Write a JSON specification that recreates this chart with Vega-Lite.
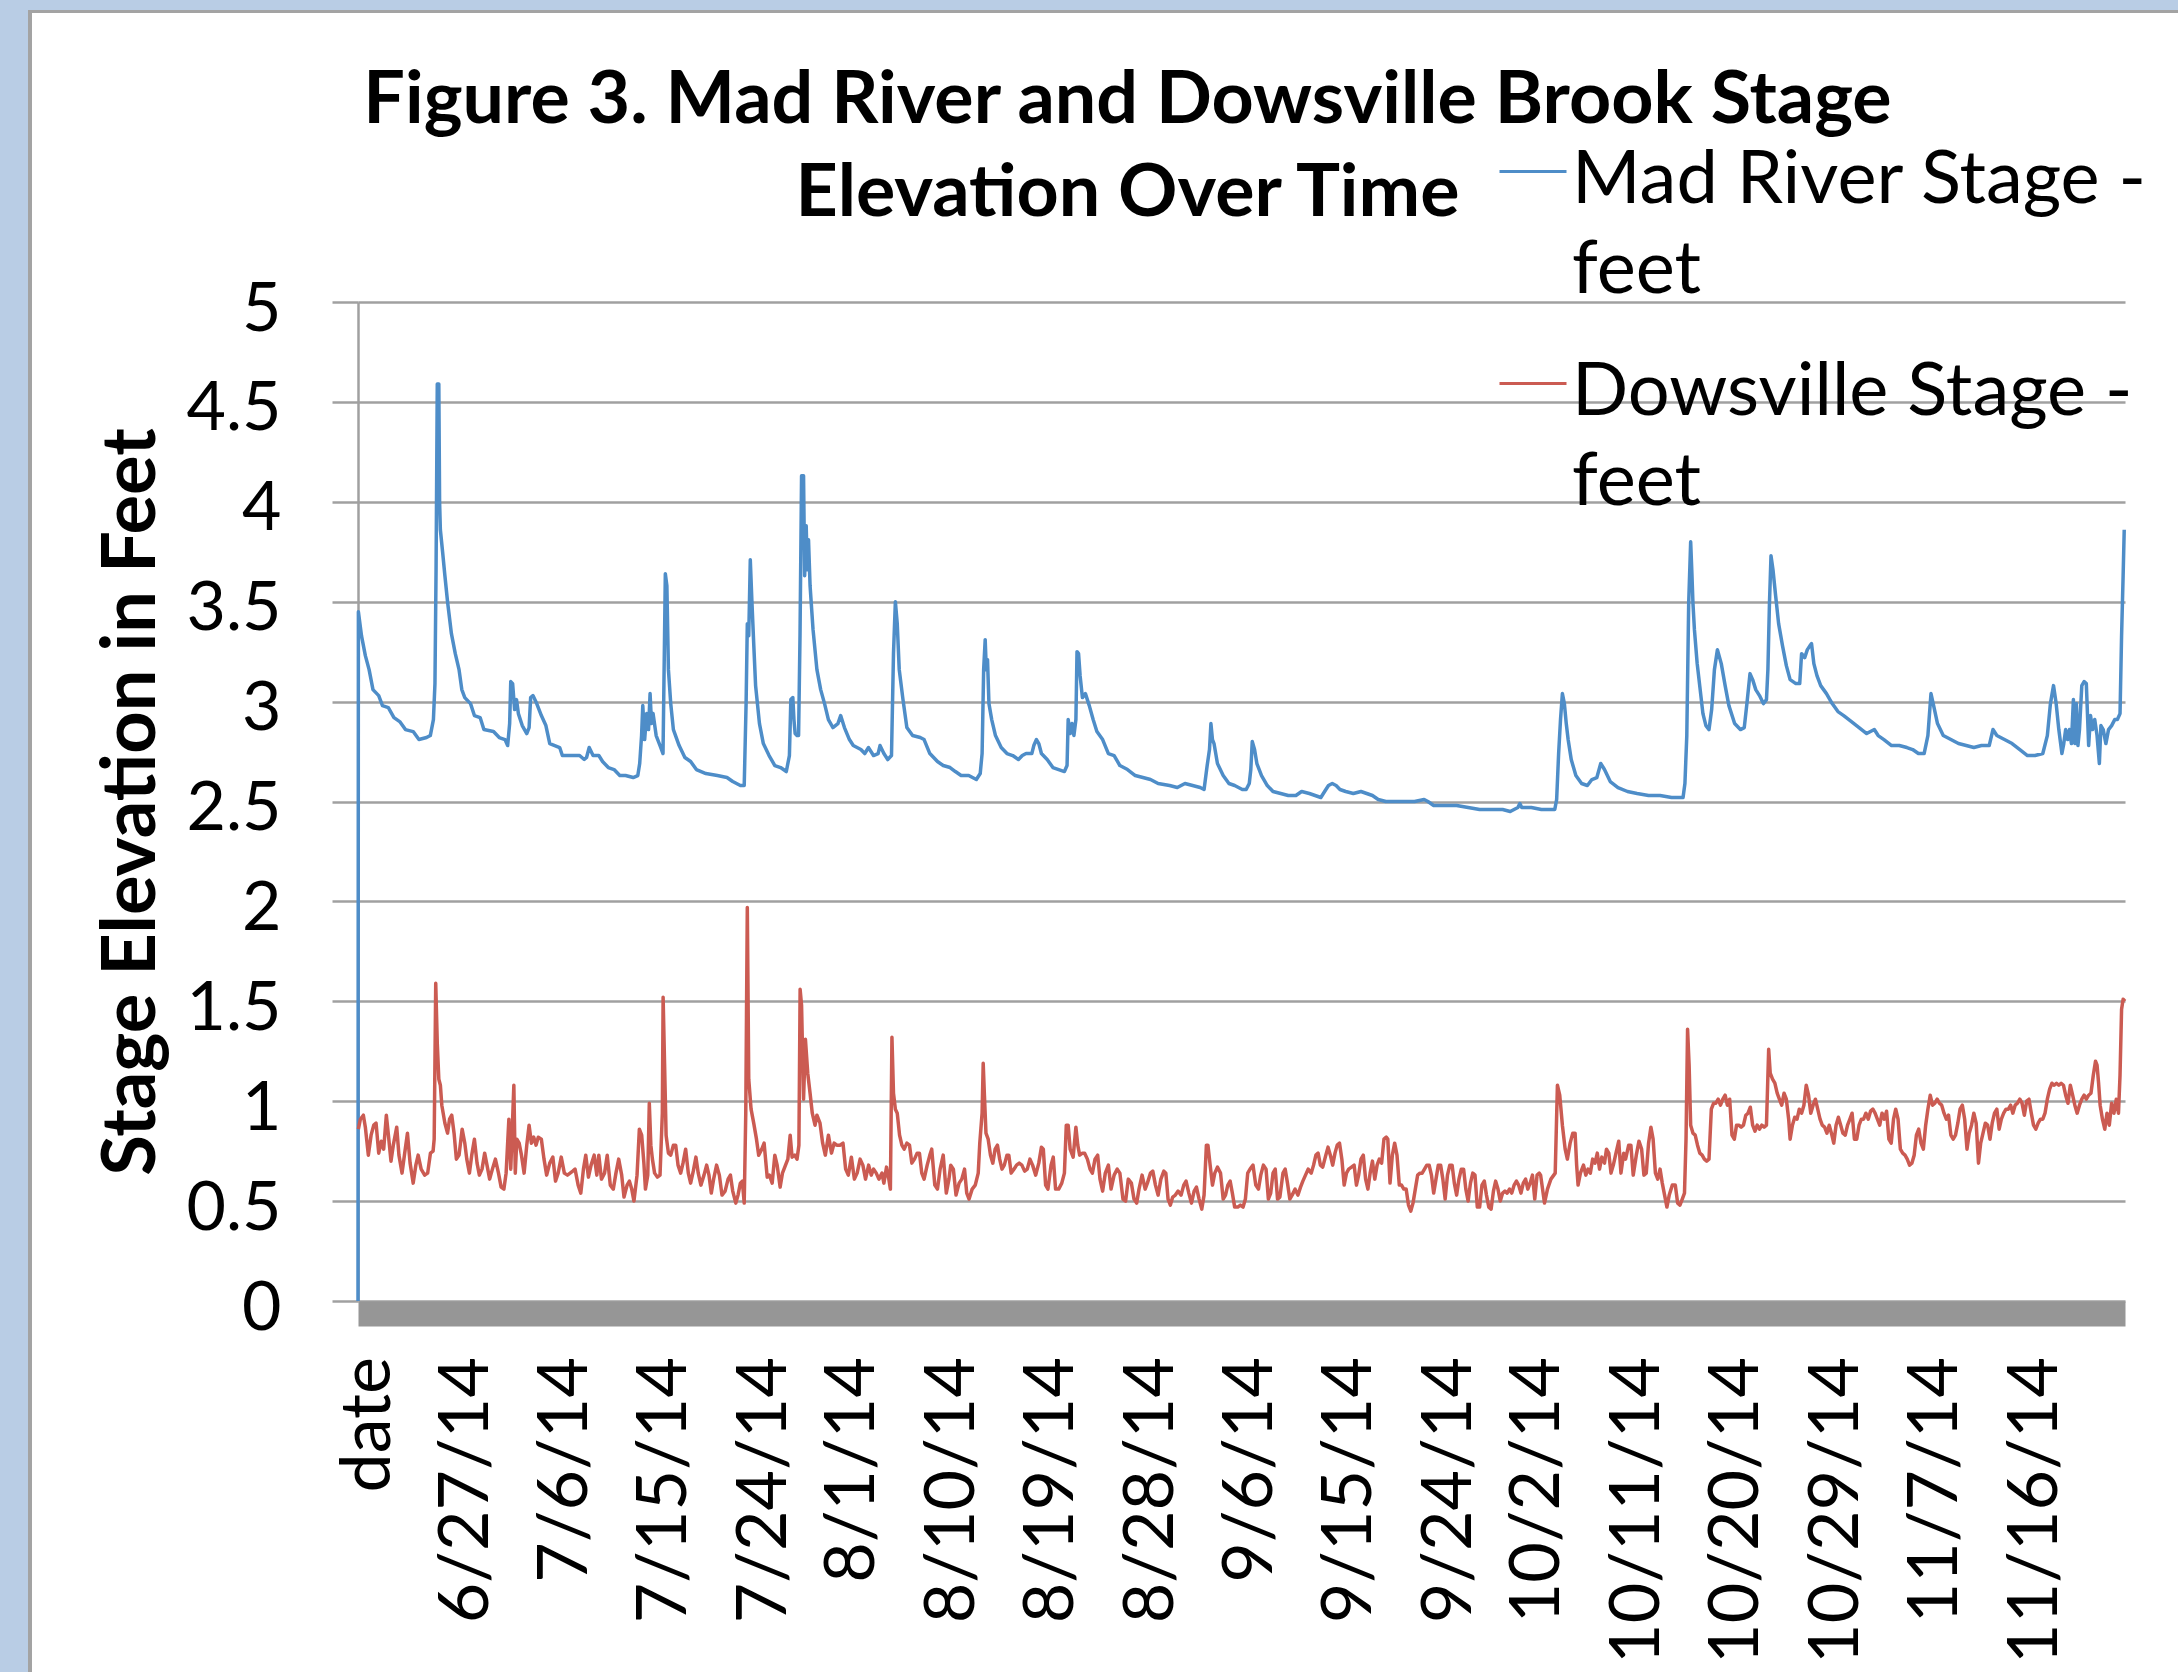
{
"$schema": "https://vega.github.io/schema/vega-lite/v6.json",
"padding": 0,
"background": "white",
"config": {"view": {"stroke": null}, "font": "Lato", "style": {"guide-label": {"lineHeight": 90}}},
"datasets": {
"mad": [
{"day":0.125,"v":0},{"day":0.16,"v":3.45},{"day":0.44,"v":3.33},{"day":0.79,"v":3.23},{"day":1.13,"v":3.16},{"day":1.48,"v":3.06},{"day":2.00,"v":3.03},{"day":2.34,"v":2.98},{"day":2.87,"v":2.97},{"day":3.38,"v":2.92},{"day":3.90,"v":2.90},{"day":4.42,"v":2.86},{"day":5.12,"v":2.85},{"day":5.64,"v":2.81},{"day":6.33,"v":2.82},{"day":6.67,"v":2.83},{"day":6.95,"v":2.91},{"day":7.09,"v":3.09},{"day":7.19,"v":3.66},{"day":7.30,"v":4.59},{"day":7.44,"v":4.59},{"day":7.51,"v":4.00},{"day":7.58,"v":3.86},{"day":7.78,"v":3.75},{"day":7.99,"v":3.63},{"day":8.23,"v":3.50},{"day":8.58,"v":3.34},{"day":8.93,"v":3.24},{"day":9.27,"v":3.16},{"day":9.52,"v":3.06},{"day":9.79,"v":3.02},{"day":10.31,"v":2.99},{"day":10.66,"v":2.93},{"day":11.18,"v":2.92},{"day":11.52,"v":2.86},{"day":12.39,"v":2.85},{"day":12.91,"v":2.82},{"day":13.43,"v":2.81},{"day":13.67,"v":2.78},{"day":13.85,"v":2.89},{"day":13.95,"v":3.10},{"day":14.12,"v":3.09},{"day":14.30,"v":2.96},{"day":14.47,"v":3.01},{"day":14.64,"v":2.94},{"day":14.99,"v":2.88},{"day":15.40,"v":2.84},{"day":15.61,"v":2.87},{"day":15.75,"v":3.02},{"day":15.96,"v":3.03},{"day":16.30,"v":2.99},{"day":16.72,"v":2.93},{"day":17.13,"v":2.88},{"day":17.48,"v":2.79},{"day":17.93,"v":2.78},{"day":18.38,"v":2.77},{"day":18.62,"v":2.73},{"day":19.32,"v":2.73},{"day":20.18,"v":2.73},{"day":20.60,"v":2.71},{"day":20.81,"v":2.72},{"day":21.05,"v":2.77},{"day":21.40,"v":2.73},{"day":21.92,"v":2.73},{"day":22.26,"v":2.70},{"day":22.78,"v":2.67},{"day":23.30,"v":2.66},{"day":23.82,"v":2.63},{"day":24.34,"v":2.63},{"day":25.03,"v":2.62},{"day":25.45,"v":2.63},{"day":25.62,"v":2.69},{"day":25.79,"v":2.83},{"day":25.90,"v":2.98},{"day":26.07,"v":2.81},{"day":26.25,"v":2.94},{"day":26.42,"v":2.86},{"day":26.56,"v":3.04},{"day":26.69,"v":2.89},{"day":26.83,"v":2.94},{"day":27.11,"v":2.83},{"day":27.46,"v":2.78},{"day":27.73,"v":2.74},{"day":27.87,"v":3.33},{"day":27.94,"v":3.64},{"day":28.08,"v":3.58},{"day":28.22,"v":3.16},{"day":28.43,"v":2.99},{"day":28.67,"v":2.86},{"day":29.19,"v":2.78},{"day":29.71,"v":2.72},{"day":30.23,"v":2.70},{"day":30.75,"v":2.66},{"day":31.61,"v":2.64},{"day":32.65,"v":2.63},{"day":33.52,"v":2.62},{"day":34.04,"v":2.60},{"day":34.73,"v":2.58},{"day":35.08,"v":2.58},{"day":35.25,"v":2.99},{"day":35.36,"v":3.39},{"day":35.49,"v":3.33},{"day":35.63,"v":3.71},{"day":35.77,"v":3.51},{"day":35.94,"v":3.29},{"day":36.11,"v":3.08},{"day":36.46,"v":2.89},{"day":36.81,"v":2.79},{"day":37.33,"v":2.73},{"day":37.85,"v":2.68},{"day":38.37,"v":2.67},{"day":38.89,"v":2.65},{"day":39.17,"v":2.73},{"day":39.30,"v":3.01},{"day":39.48,"v":3.02},{"day":39.58,"v":2.91},{"day":39.69,"v":2.84},{"day":39.86,"v":2.83},{"day":40.00,"v":2.83},{"day":40.13,"v":3.33},{"day":40.27,"v":4.13},{"day":40.45,"v":4.13},{"day":40.55,"v":3.63},{"day":40.69,"v":3.88},{"day":40.79,"v":3.66},{"day":40.90,"v":3.81},{"day":41.04,"v":3.58},{"day":41.31,"v":3.36},{"day":41.66,"v":3.16},{"day":42.00,"v":3.06},{"day":42.35,"v":2.99},{"day":42.70,"v":2.91},{"day":43.11,"v":2.87},{"day":43.56,"v":2.89},{"day":43.81,"v":2.93},{"day":44.15,"v":2.87},{"day":44.60,"v":2.81},{"day":44.95,"v":2.78},{"day":45.64,"v":2.76},{"day":45.99,"v":2.74},{"day":46.33,"v":2.77},{"day":46.78,"v":2.73},{"day":47.20,"v":2.74},{"day":47.37,"v":2.78},{"day":47.72,"v":2.74},{"day":48.07,"v":2.71},{"day":48.41,"v":2.73},{"day":48.59,"v":3.24},{"day":48.76,"v":3.50},{"day":48.93,"v":3.39},{"day":49.11,"v":3.16},{"day":49.45,"v":3.01},{"day":49.80,"v":2.87},{"day":50.32,"v":2.83},{"day":51.01,"v":2.82},{"day":51.36,"v":2.81},{"day":51.88,"v":2.74},{"day":52.57,"v":2.70},{"day":53.09,"v":2.68},{"day":53.71,"v":2.67},{"day":54.19,"v":2.65},{"day":54.71,"v":2.63},{"day":55.40,"v":2.63},{"day":56.09,"v":2.61},{"day":56.44,"v":2.64},{"day":56.61,"v":2.74},{"day":56.75,"v":3.16},{"day":56.89,"v":3.31},{"day":56.99,"v":3.16},{"day":57.10,"v":3.21},{"day":57.23,"v":2.99},{"day":57.48,"v":2.91},{"day":57.82,"v":2.83},{"day":58.34,"v":2.77},{"day":58.86,"v":2.74},{"day":59.38,"v":2.73},{"day":59.90,"v":2.71},{"day":60.25,"v":2.73},{"day":60.59,"v":2.74},{"day":61.11,"v":2.74},{"day":61.29,"v":2.78},{"day":61.53,"v":2.81},{"day":61.74,"v":2.79},{"day":61.98,"v":2.74},{"day":62.50,"v":2.71},{"day":63.02,"v":2.67},{"day":63.54,"v":2.66},{"day":64.06,"v":2.65},{"day":64.30,"v":2.68},{"day":64.40,"v":2.91},{"day":64.58,"v":2.84},{"day":64.75,"v":2.89},{"day":64.92,"v":2.83},{"day":65.10,"v":2.91},{"day":65.20,"v":3.25},{"day":65.34,"v":3.24},{"day":65.48,"v":3.13},{"day":65.69,"v":3.02},{"day":65.96,"v":3.04},{"day":66.31,"v":2.98},{"day":66.66,"v":2.91},{"day":67.00,"v":2.85},{"day":67.52,"v":2.81},{"day":68.04,"v":2.74},{"day":68.56,"v":2.73},{"day":69.08,"v":2.68},{"day":69.77,"v":2.66},{"day":70.47,"v":2.63},{"day":71.16,"v":2.62},{"day":71.85,"v":2.61},{"day":72.54,"v":2.59},{"day":73.58,"v":2.58},{"day":74.28,"v":2.57},{"day":74.97,"v":2.59},{"day":75.66,"v":2.58},{"day":76.35,"v":2.57},{"day":76.70,"v":2.56},{"day":76.98,"v":2.68},{"day":77.19,"v":2.76},{"day":77.32,"v":2.89},{"day":77.46,"v":2.81},{"day":77.60,"v":2.79},{"day":77.91,"v":2.69},{"day":78.43,"v":2.63},{"day":78.95,"v":2.59},{"day":79.47,"v":2.58},{"day":80.16,"v":2.56},{"day":80.51,"v":2.56},{"day":80.79,"v":2.59},{"day":80.93,"v":2.66},{"day":81.06,"v":2.80},{"day":81.27,"v":2.76},{"day":81.48,"v":2.69},{"day":81.90,"v":2.63},{"day":82.42,"v":2.58},{"day":82.94,"v":2.55},{"day":83.63,"v":2.54},{"day":84.32,"v":2.53},{"day":85.01,"v":2.53},{"day":85.53,"v":2.55},{"day":86.23,"v":2.54},{"day":86.75,"v":2.53},{"day":87.27,"v":2.52},{"day":87.61,"v":2.55},{"day":87.96,"v":2.58},{"day":88.30,"v":2.59},{"day":88.65,"v":2.58},{"day":89.00,"v":2.56},{"day":89.52,"v":2.55},{"day":90.21,"v":2.54},{"day":90.90,"v":2.55},{"day":91.42,"v":2.54},{"day":91.94,"v":2.53},{"day":92.46,"v":2.51},{"day":93.15,"v":2.50},{"day":94.02,"v":2.50},{"day":94.88,"v":2.50},{"day":95.75,"v":2.50},{"day":96.62,"v":2.51},{"day":96.96,"v":2.50},{"day":97.48,"v":2.48},{"day":98.52,"v":2.48},{"day":99.56,"v":2.48},{"day":100.60,"v":2.47},{"day":101.64,"v":2.46},{"day":102.68,"v":2.46},{"day":103.72,"v":2.46},{"day":104.41,"v":2.45},{"day":105.10,"v":2.47},{"day":105.28,"v":2.49},{"day":105.45,"v":2.47},{"day":106.32,"v":2.47},{"day":107.23,"v":2.46},{"day":107.92,"v":2.46},{"day":108.44,"v":2.46},{"day":108.61,"v":2.51},{"day":108.79,"v":2.74},{"day":108.96,"v":2.91},{"day":109.13,"v":3.04},{"day":109.31,"v":2.99},{"day":109.48,"v":2.89},{"day":109.65,"v":2.81},{"day":109.93,"v":2.71},{"day":110.35,"v":2.63},{"day":110.87,"v":2.59},{"day":111.39,"v":2.58},{"day":111.80,"v":2.61},{"day":112.25,"v":2.62},{"day":112.60,"v":2.69},{"day":112.94,"v":2.66},{"day":113.46,"v":2.60},{"day":114.16,"v":2.57},{"day":115.02,"v":2.55},{"day":115.89,"v":2.54},{"day":116.93,"v":2.53},{"day":117.97,"v":2.53},{"day":119.01,"v":2.52},{"day":120.05,"v":2.52},{"day":120.22,"v":2.59},{"day":120.39,"v":2.83},{"day":120.56,"v":3.49},{"day":120.74,"v":3.80},{"day":120.84,"v":3.66},{"day":120.95,"v":3.49},{"day":121.08,"v":3.36},{"day":121.33,"v":3.19},{"day":121.60,"v":3.06},{"day":121.85,"v":2.94},{"day":122.12,"v":2.88},{"day":122.40,"v":2.86},{"day":122.64,"v":2.96},{"day":122.89,"v":3.16},{"day":123.16,"v":3.26},{"day":123.51,"v":3.19},{"day":123.86,"v":3.08},{"day":124.20,"v":2.98},{"day":124.72,"v":2.89},{"day":125.24,"v":2.86},{"day":125.59,"v":2.87},{"day":125.83,"v":2.99},{"day":126.11,"v":3.14},{"day":126.35,"v":3.11},{"day":126.63,"v":3.06},{"day":126.97,"v":3.03},{"day":127.32,"v":2.99},{"day":127.60,"v":3.01},{"day":127.73,"v":3.16},{"day":127.87,"v":3.49},{"day":128.01,"v":3.73},{"day":128.19,"v":3.66},{"day":128.43,"v":3.53},{"day":128.70,"v":3.39},{"day":129.05,"v":3.28},{"day":129.40,"v":3.18},{"day":129.74,"v":3.11},{"day":130.26,"v":3.09},{"day":130.61,"v":3.09},{"day":130.78,"v":3.24},{"day":131.06,"v":3.22},{"day":131.30,"v":3.26},{"day":131.54,"v":3.28},{"day":131.68,"v":3.29},{"day":131.89,"v":3.19},{"day":132.17,"v":3.13},{"day":132.51,"v":3.08},{"day":133.03,"v":3.04},{"day":133.55,"v":2.99},{"day":134.07,"v":2.95},{"day":134.59,"v":2.93},{"day":135.29,"v":2.90},{"day":135.98,"v":2.87},{"day":136.67,"v":2.84},{"day":137.36,"v":2.86},{"day":137.71,"v":2.83},{"day":138.23,"v":2.81},{"day":138.92,"v":2.78},{"day":139.62,"v":2.78},{"day":140.31,"v":2.77},{"day":140.83,"v":2.76},{"day":141.35,"v":2.74},{"day":141.87,"v":2.74},{"day":142.21,"v":2.83},{"day":142.49,"v":3.04},{"day":142.73,"v":2.98},{"day":143.08,"v":2.89},{"day":143.60,"v":2.83},{"day":144.29,"v":2.81},{"day":144.98,"v":2.79},{"day":145.68,"v":2.78},{"day":146.37,"v":2.77},{"day":147.06,"v":2.78},{"day":147.76,"v":2.78},{"day":148.10,"v":2.86},{"day":148.45,"v":2.83},{"day":149.14,"v":2.81},{"day":149.83,"v":2.79},{"day":150.53,"v":2.76},{"day":151.22,"v":2.73},{"day":151.91,"v":2.73},{"day":152.61,"v":2.74},{"day":153.02,"v":2.83},{"day":153.30,"v":2.99},{"day":153.58,"v":3.08},{"day":153.82,"v":2.99},{"day":154.06,"v":2.86},{"day":154.34,"v":2.74},{"day":154.51,"v":2.79},{"day":154.68,"v":2.86},{"day":154.86,"v":2.81},{"day":155.03,"v":2.86},{"day":155.20,"v":2.79},{"day":155.38,"v":3.01},{"day":155.51,"v":2.79},{"day":155.65,"v":2.99},{"day":155.79,"v":2.78},{"day":155.93,"v":2.86},{"day":156.14,"v":3.08},{"day":156.35,"v":3.10},{"day":156.55,"v":3.09},{"day":156.76,"v":2.78},{"day":156.93,"v":2.93},{"day":157.11,"v":2.86},{"day":157.31,"v":2.91},{"day":157.52,"v":2.83},{"day":157.73,"v":2.69},{"day":157.87,"v":2.88},{"day":158.08,"v":2.86},{"day":158.32,"v":2.79},{"day":158.56,"v":2.86},{"day":158.84,"v":2.88},{"day":159.12,"v":2.91},{"day":159.36,"v":2.91},{"day":159.60,"v":2.94},{"day":159.74,"v":3.33},{"day":159.88,"v":3.63},{"day":159.98,"v":3.86}
],
"dow": [
{"day":0.16,"v":0.86},{"day":0.34,"v":0.91},{"day":0.61,"v":0.93},{"day":0.79,"v":0.87},{"day":1.06,"v":0.73},{"day":1.31,"v":0.83},{"day":1.55,"v":0.88},{"day":1.76,"v":0.89},{"day":2.00,"v":0.74},{"day":2.24,"v":0.80},{"day":2.45,"v":0.76},{"day":2.69,"v":0.93},{"day":2.86,"v":0.84},{"day":3.11,"v":0.70},{"day":3.32,"v":0.78},{"day":3.63,"v":0.87},{"day":3.83,"v":0.73},{"day":4.11,"v":0.64},{"day":4.35,"v":0.74},{"day":4.60,"v":0.84},{"day":4.84,"v":0.69},{"day":5.12,"v":0.59},{"day":5.36,"v":0.68},{"day":5.57,"v":0.73},{"day":5.84,"v":0.66},{"day":6.16,"v":0.63},{"day":6.43,"v":0.64},{"day":6.68,"v":0.74},{"day":6.92,"v":0.75},{"day":7.02,"v":0.81},{"day":7.16,"v":1.59},{"day":7.30,"v":1.29},{"day":7.44,"v":1.11},{"day":7.58,"v":1.08},{"day":7.71,"v":0.98},{"day":7.99,"v":0.89},{"day":8.23,"v":0.84},{"day":8.41,"v":0.91},{"day":8.61,"v":0.93},{"day":8.82,"v":0.84},{"day":9.03,"v":0.71},{"day":9.27,"v":0.73},{"day":9.55,"v":0.86},{"day":9.79,"v":0.79},{"day":9.97,"v":0.71},{"day":10.21,"v":0.64},{"day":10.42,"v":0.73},{"day":10.66,"v":0.81},{"day":10.90,"v":0.69},{"day":11.11,"v":0.63},{"day":11.35,"v":0.66},{"day":11.59,"v":0.74},{"day":11.80,"v":0.68},{"day":12.04,"v":0.61},{"day":12.29,"v":0.66},{"day":12.56,"v":0.71},{"day":12.84,"v":0.64},{"day":13.08,"v":0.57},{"day":13.33,"v":0.56},{"day":13.53,"v":0.64},{"day":13.78,"v":0.91},{"day":13.95,"v":0.66},{"day":14.12,"v":0.91},{"day":14.23,"v":1.08},{"day":14.36,"v":0.64},{"day":14.50,"v":0.81},{"day":14.71,"v":0.79},{"day":14.92,"v":0.73},{"day":15.16,"v":0.64},{"day":15.40,"v":0.78},{"day":15.61,"v":0.88},{"day":15.82,"v":0.79},{"day":16.03,"v":0.82},{"day":16.24,"v":0.78},{"day":16.44,"v":0.82},{"day":16.72,"v":0.81},{"day":16.96,"v":0.71},{"day":17.20,"v":0.63},{"day":17.48,"v":0.69},{"day":17.76,"v":0.72},{"day":18.00,"v":0.60},{"day":18.24,"v":0.64},{"day":18.52,"v":0.72},{"day":18.80,"v":0.64},{"day":19.08,"v":0.63},{"day":19.32,"v":0.64},{"day":19.56,"v":0.65},{"day":19.77,"v":0.66},{"day":20.05,"v":0.58},{"day":20.29,"v":0.54},{"day":20.53,"v":0.66},{"day":20.74,"v":0.73},{"day":20.98,"v":0.62},{"day":21.22,"v":0.68},{"day":21.50,"v":0.73},{"day":21.74,"v":0.63},{"day":21.92,"v":0.73},{"day":22.16,"v":0.61},{"day":22.44,"v":0.64},{"day":22.68,"v":0.73},{"day":22.96,"v":0.58},{"day":23.23,"v":0.56},{"day":23.47,"v":0.64},{"day":23.72,"v":0.71},{"day":23.99,"v":0.63},{"day":24.20,"v":0.52},{"day":24.48,"v":0.58},{"day":24.69,"v":0.60},{"day":24.90,"v":0.56},{"day":25.10,"v":0.50},{"day":25.38,"v":0.63},{"day":25.59,"v":0.86},{"day":25.80,"v":0.83},{"day":26.00,"v":0.69},{"day":26.14,"v":0.56},{"day":26.35,"v":0.63},{"day":26.49,"v":0.99},{"day":26.63,"v":0.78},{"day":26.77,"v":0.71},{"day":26.97,"v":0.64},{"day":27.22,"v":0.62},{"day":27.46,"v":0.63},{"day":27.67,"v":0.94},{"day":27.74,"v":1.52},{"day":27.87,"v":1.19},{"day":28.01,"v":0.83},{"day":28.22,"v":0.74},{"day":28.43,"v":0.73},{"day":28.67,"v":0.78},{"day":28.88,"v":0.78},{"day":29.09,"v":0.68},{"day":29.33,"v":0.64},{"day":29.54,"v":0.69},{"day":29.78,"v":0.76},{"day":30.02,"v":0.64},{"day":30.23,"v":0.59},{"day":30.47,"v":0.65},{"day":30.71,"v":0.72},{"day":30.92,"v":0.64},{"day":31.16,"v":0.58},{"day":31.44,"v":0.63},{"day":31.68,"v":0.68},{"day":31.89,"v":0.63},{"day":32.10,"v":0.54},{"day":32.31,"v":0.61},{"day":32.58,"v":0.68},{"day":32.83,"v":0.63},{"day":33.07,"v":0.53},{"day":33.35,"v":0.55},{"day":33.62,"v":0.61},{"day":33.83,"v":0.63},{"day":34.04,"v":0.55},{"day":34.32,"v":0.49},{"day":34.52,"v":0.53},{"day":34.73,"v":0.59},{"day":34.91,"v":0.60},{"day":35.08,"v":0.49},{"day":35.22,"v":0.94},{"day":35.36,"v":1.97},{"day":35.49,"v":1.11},{"day":35.70,"v":0.96},{"day":35.94,"v":0.89},{"day":36.19,"v":0.81},{"day":36.39,"v":0.73},{"day":36.67,"v":0.76},{"day":36.88,"v":0.79},{"day":37.16,"v":0.62},{"day":37.36,"v":0.63},{"day":37.61,"v":0.59},{"day":37.85,"v":0.73},{"day":38.06,"v":0.68},{"day":38.33,"v":0.57},{"day":38.54,"v":0.64},{"day":38.82,"v":0.68},{"day":39.03,"v":0.71},{"day":39.24,"v":0.83},{"day":39.41,"v":0.72},{"day":39.65,"v":0.73},{"day":39.86,"v":0.71},{"day":40.03,"v":0.78},{"day":40.14,"v":1.56},{"day":40.27,"v":1.48},{"day":40.45,"v":1.01},{"day":40.62,"v":1.31},{"day":40.83,"v":1.14},{"day":41.04,"v":1.04},{"day":41.24,"v":0.94},{"day":41.49,"v":0.88},{"day":41.66,"v":0.93},{"day":41.94,"v":0.89},{"day":42.18,"v":0.79},{"day":42.42,"v":0.73},{"day":42.70,"v":0.83},{"day":42.98,"v":0.74},{"day":43.22,"v":0.79},{"day":43.46,"v":0.78},{"day":43.74,"v":0.78},{"day":44.02,"v":0.79},{"day":44.26,"v":0.66},{"day":44.50,"v":0.63},{"day":44.78,"v":0.72},{"day":45.05,"v":0.61},{"day":45.30,"v":0.64},{"day":45.57,"v":0.71},{"day":45.82,"v":0.68},{"day":46.06,"v":0.61},{"day":46.34,"v":0.68},{"day":46.58,"v":0.63},{"day":46.79,"v":0.66},{"day":47.03,"v":0.64},{"day":47.27,"v":0.61},{"day":47.55,"v":0.64},{"day":47.72,"v":0.59},{"day":47.96,"v":0.67},{"day":48.17,"v":0.61},{"day":48.31,"v":0.56},{"day":48.45,"v":1.32},{"day":48.59,"v":1.04},{"day":48.76,"v":0.96},{"day":48.93,"v":0.94},{"day":49.14,"v":0.83},{"day":49.35,"v":0.78},{"day":49.56,"v":0.76},{"day":49.80,"v":0.79},{"day":50.04,"v":0.78},{"day":50.25,"v":0.69},{"day":50.49,"v":0.71},{"day":50.73,"v":0.74},{"day":50.94,"v":0.74},{"day":51.15,"v":0.64},{"day":51.36,"v":0.61},{"day":51.64,"v":0.68},{"day":51.88,"v":0.73},{"day":52.05,"v":0.76},{"day":52.33,"v":0.58},{"day":52.57,"v":0.56},{"day":52.81,"v":0.66},{"day":53.09,"v":0.73},{"day":53.37,"v":0.54},{"day":53.61,"v":0.61},{"day":53.77,"v":0.68},{"day":54.01,"v":0.66},{"day":54.25,"v":0.53},{"day":54.53,"v":0.59},{"day":54.77,"v":0.61},{"day":55.02,"v":0.66},{"day":55.22,"v":0.54},{"day":55.43,"v":0.51},{"day":55.71,"v":0.56},{"day":55.99,"v":0.58},{"day":56.26,"v":0.64},{"day":56.40,"v":0.79},{"day":56.61,"v":0.94},{"day":56.71,"v":1.19},{"day":56.82,"v":1.03},{"day":56.96,"v":0.84},{"day":57.16,"v":0.81},{"day":57.37,"v":0.73},{"day":57.58,"v":0.69},{"day":57.79,"v":0.76},{"day":58.00,"v":0.78},{"day":58.20,"v":0.71},{"day":58.41,"v":0.66},{"day":58.62,"v":0.68},{"day":58.86,"v":0.73},{"day":59.03,"v":0.73},{"day":59.24,"v":0.64},{"day":59.49,"v":0.66},{"day":59.73,"v":0.68},{"day":59.97,"v":0.69},{"day":60.21,"v":0.68},{"day":60.46,"v":0.65},{"day":60.70,"v":0.66},{"day":60.94,"v":0.71},{"day":61.18,"v":0.68},{"day":61.46,"v":0.63},{"day":61.74,"v":0.69},{"day":61.98,"v":0.77},{"day":62.15,"v":0.76},{"day":62.36,"v":0.58},{"day":62.57,"v":0.56},{"day":62.85,"v":0.68},{"day":63.05,"v":0.72},{"day":63.26,"v":0.56},{"day":63.54,"v":0.56},{"day":63.82,"v":0.59},{"day":64.06,"v":0.64},{"day":64.23,"v":0.88},{"day":64.40,"v":0.88},{"day":64.58,"v":0.76},{"day":64.85,"v":0.72},{"day":65.10,"v":0.87},{"day":65.27,"v":0.78},{"day":65.44,"v":0.73},{"day":65.69,"v":0.74},{"day":65.89,"v":0.74},{"day":66.14,"v":0.71},{"day":66.38,"v":0.66},{"day":66.59,"v":0.64},{"day":66.83,"v":0.71},{"day":67.07,"v":0.73},{"day":67.28,"v":0.61},{"day":67.52,"v":0.55},{"day":67.76,"v":0.64},{"day":68.04,"v":0.68},{"day":68.28,"v":0.56},{"day":68.56,"v":0.63},{"day":68.84,"v":0.66},{"day":69.08,"v":0.64},{"day":69.36,"v":0.51},{"day":69.60,"v":0.50},{"day":69.84,"v":0.61},{"day":70.12,"v":0.59},{"day":70.36,"v":0.51},{"day":70.60,"v":0.49},{"day":70.81,"v":0.56},{"day":71.09,"v":0.63},{"day":71.37,"v":0.56},{"day":71.57,"v":0.59},{"day":71.85,"v":0.64},{"day":72.06,"v":0.65},{"day":72.30,"v":0.58},{"day":72.54,"v":0.53},{"day":72.79,"v":0.61},{"day":73.06,"v":0.65},{"day":73.24,"v":0.64},{"day":73.44,"v":0.51},{"day":73.65,"v":0.48},{"day":73.86,"v":0.52},{"day":74.10,"v":0.53},{"day":74.35,"v":0.55},{"day":74.62,"v":0.53},{"day":74.86,"v":0.58},{"day":75.07,"v":0.60},{"day":75.32,"v":0.54},{"day":75.56,"v":0.49},{"day":75.80,"v":0.55},{"day":76.01,"v":0.57},{"day":76.25,"v":0.51},{"day":76.49,"v":0.46},{"day":76.70,"v":0.53},{"day":76.91,"v":0.78},{"day":77.05,"v":0.78},{"day":77.25,"v":0.68},{"day":77.46,"v":0.58},{"day":77.67,"v":0.64},{"day":77.91,"v":0.67},{"day":78.19,"v":0.64},{"day":78.43,"v":0.51},{"day":78.64,"v":0.53},{"day":78.85,"v":0.58},{"day":79.06,"v":0.60},{"day":79.26,"v":0.54},{"day":79.47,"v":0.47},{"day":79.75,"v":0.47},{"day":79.99,"v":0.48},{"day":80.23,"v":0.47},{"day":80.44,"v":0.51},{"day":80.65,"v":0.64},{"day":80.86,"v":0.66},{"day":81.13,"v":0.68},{"day":81.38,"v":0.58},{"day":81.62,"v":0.56},{"day":81.83,"v":0.63},{"day":82.07,"v":0.68},{"day":82.31,"v":0.66},{"day":82.52,"v":0.51},{"day":82.73,"v":0.54},{"day":82.94,"v":0.64},{"day":83.14,"v":0.66},{"day":83.35,"v":0.51},{"day":83.56,"v":0.52},{"day":83.84,"v":0.64},{"day":84.04,"v":0.66},{"day":84.25,"v":0.59},{"day":84.46,"v":0.51},{"day":84.67,"v":0.53},{"day":84.94,"v":0.56},{"day":85.19,"v":0.53},{"day":85.43,"v":0.57},{"day":85.64,"v":0.60},{"day":85.88,"v":0.63},{"day":86.12,"v":0.66},{"day":86.40,"v":0.64},{"day":86.61,"v":0.68},{"day":86.82,"v":0.73},{"day":87.02,"v":0.74},{"day":87.23,"v":0.68},{"day":87.44,"v":0.67},{"day":87.72,"v":0.73},{"day":87.92,"v":0.77},{"day":88.13,"v":0.73},{"day":88.34,"v":0.68},{"day":88.55,"v":0.74},{"day":88.75,"v":0.78},{"day":88.96,"v":0.79},{"day":89.17,"v":0.71},{"day":89.38,"v":0.58},{"day":89.59,"v":0.64},{"day":89.79,"v":0.66},{"day":90.04,"v":0.67},{"day":90.28,"v":0.68},{"day":90.49,"v":0.58},{"day":90.69,"v":0.63},{"day":90.90,"v":0.71},{"day":91.11,"v":0.73},{"day":91.32,"v":0.61},{"day":91.53,"v":0.56},{"day":91.73,"v":0.64},{"day":91.94,"v":0.70},{"day":92.15,"v":0.61},{"day":92.36,"v":0.68},{"day":92.56,"v":0.71},{"day":92.77,"v":0.69},{"day":92.98,"v":0.81},{"day":93.19,"v":0.82},{"day":93.33,"v":0.81},{"day":93.53,"v":0.59},{"day":93.74,"v":0.73},{"day":93.95,"v":0.79},{"day":94.16,"v":0.73},{"day":94.37,"v":0.58},{"day":94.57,"v":0.58},{"day":94.78,"v":0.56},{"day":94.99,"v":0.56},{"day":95.20,"v":0.48},{"day":95.41,"v":0.45},{"day":95.61,"v":0.49},{"day":95.82,"v":0.56},{"day":96.03,"v":0.63},{"day":96.24,"v":0.64},{"day":96.44,"v":0.64},{"day":96.65,"v":0.66},{"day":96.86,"v":0.68},{"day":97.07,"v":0.68},{"day":97.28,"v":0.63},{"day":97.48,"v":0.54},{"day":97.69,"v":0.61},{"day":97.90,"v":0.68},{"day":98.11,"v":0.68},{"day":98.31,"v":0.61},{"day":98.52,"v":0.51},{"day":98.73,"v":0.63},{"day":98.94,"v":0.68},{"day":99.15,"v":0.68},{"day":99.35,"v":0.59},{"day":99.56,"v":0.53},{"day":99.77,"v":0.61},{"day":99.98,"v":0.66},{"day":100.19,"v":0.66},{"day":100.39,"v":0.56},{"day":100.60,"v":0.50},{"day":100.81,"v":0.59},{"day":101.02,"v":0.64},{"day":101.22,"v":0.63},{"day":101.43,"v":0.47},{"day":101.64,"v":0.47},{"day":101.85,"v":0.58},{"day":102.06,"v":0.60},{"day":102.26,"v":0.53},{"day":102.47,"v":0.47},{"day":102.68,"v":0.46},{"day":102.89,"v":0.55},{"day":103.09,"v":0.60},{"day":103.30,"v":0.56},{"day":103.51,"v":0.50},{"day":103.72,"v":0.54},{"day":103.93,"v":0.55},{"day":104.13,"v":0.54},{"day":104.34,"v":0.56},{"day":104.55,"v":0.54},{"day":104.76,"v":0.58},{"day":104.97,"v":0.60},{"day":105.17,"v":0.58},{"day":105.38,"v":0.54},{"day":105.59,"v":0.59},{"day":105.80,"v":0.61},{"day":106.00,"v":0.56},{"day":106.21,"v":0.59},{"day":106.42,"v":0.63},{"day":106.63,"v":0.51},{"day":106.84,"v":0.63},{"day":107.04,"v":0.64},{"day":107.16,"v":0.63},{"day":107.51,"v":0.49},{"day":107.78,"v":0.56},{"day":108.09,"v":0.61},{"day":108.48,"v":0.64},{"day":108.68,"v":1.08},{"day":108.89,"v":1.03},{"day":109.13,"v":0.88},{"day":109.38,"v":0.76},{"day":109.58,"v":0.71},{"day":109.83,"v":0.79},{"day":110.07,"v":0.84},{"day":110.28,"v":0.84},{"day":110.42,"v":0.68},{"day":110.55,"v":0.58},{"day":110.76,"v":0.64},{"day":111.04,"v":0.68},{"day":111.25,"v":0.63},{"day":111.45,"v":0.66},{"day":111.66,"v":0.64},{"day":111.87,"v":0.71},{"day":112.08,"v":0.69},{"day":112.29,"v":0.74},{"day":112.49,"v":0.66},{"day":112.70,"v":0.72},{"day":112.94,"v":0.69},{"day":113.12,"v":0.76},{"day":113.33,"v":0.74},{"day":113.53,"v":0.64},{"day":113.74,"v":0.68},{"day":113.98,"v":0.74},{"day":114.23,"v":0.80},{"day":114.43,"v":0.64},{"day":114.68,"v":0.74},{"day":114.85,"v":0.71},{"day":115.13,"v":0.78},{"day":115.33,"v":0.78},{"day":115.54,"v":0.63},{"day":115.82,"v":0.73},{"day":116.06,"v":0.80},{"day":116.30,"v":0.76},{"day":116.51,"v":0.63},{"day":116.72,"v":0.64},{"day":116.93,"v":0.79},{"day":117.14,"v":0.87},{"day":117.34,"v":0.81},{"day":117.55,"v":0.64},{"day":117.76,"v":0.61},{"day":117.97,"v":0.66},{"day":118.17,"v":0.59},{"day":118.38,"v":0.53},{"day":118.59,"v":0.47},{"day":118.80,"v":0.53},{"day":119.08,"v":0.58},{"day":119.35,"v":0.58},{"day":119.56,"v":0.49},{"day":119.77,"v":0.48},{"day":119.98,"v":0.51},{"day":120.18,"v":0.54},{"day":120.32,"v":0.81},{"day":120.46,"v":1.36},{"day":120.60,"v":1.18},{"day":120.74,"v":0.88},{"day":120.95,"v":0.84},{"day":121.15,"v":0.83},{"day":121.36,"v":0.78},{"day":121.57,"v":0.74},{"day":121.78,"v":0.73},{"day":121.98,"v":0.71},{"day":122.19,"v":0.70},{"day":122.40,"v":0.71},{"day":122.61,"v":0.96},{"day":122.82,"v":0.99},{"day":123.02,"v":0.99},{"day":123.23,"v":1.01},{"day":123.44,"v":0.98},{"day":123.65,"v":1.01},{"day":123.86,"v":1.03},{"day":124.06,"v":0.98},{"day":124.27,"v":1.01},{"day":124.48,"v":0.83},{"day":124.69,"v":0.81},{"day":124.89,"v":0.88},{"day":125.10,"v":0.88},{"day":125.31,"v":0.87},{"day":125.52,"v":0.88},{"day":125.73,"v":0.93},{"day":125.93,"v":0.94},{"day":126.14,"v":0.97},{"day":126.35,"v":0.88},{"day":126.56,"v":0.85},{"day":126.76,"v":0.88},{"day":126.97,"v":0.86},{"day":127.18,"v":0.88},{"day":127.39,"v":0.87},{"day":127.60,"v":0.88},{"day":127.80,"v":1.26},{"day":127.94,"v":1.14},{"day":128.15,"v":1.11},{"day":128.36,"v":1.09},{"day":128.57,"v":1.04},{"day":128.77,"v":1.01},{"day":128.98,"v":0.98},{"day":129.19,"v":1.04},{"day":129.40,"v":1.01},{"day":129.61,"v":0.91},{"day":129.74,"v":0.81},{"day":129.95,"v":0.88},{"day":130.16,"v":0.92},{"day":130.37,"v":0.91},{"day":130.57,"v":0.96},{"day":130.78,"v":0.94},{"day":130.99,"v":0.98},{"day":131.20,"v":1.08},{"day":131.41,"v":1.03},{"day":131.61,"v":0.94},{"day":131.82,"v":0.98},{"day":132.03,"v":1.01},{"day":132.24,"v":0.96},{"day":132.45,"v":0.91},{"day":132.65,"v":0.88},{"day":132.86,"v":0.87},{"day":133.07,"v":0.84},{"day":133.28,"v":0.88},{"day":133.48,"v":0.84},{"day":133.69,"v":0.79},{"day":133.90,"v":0.88},{"day":134.11,"v":0.92},{"day":134.32,"v":0.88},{"day":134.52,"v":0.84},{"day":134.73,"v":0.83},{"day":134.94,"v":0.88},{"day":135.15,"v":0.91},{"day":135.35,"v":0.94},{"day":135.56,"v":0.81},{"day":135.77,"v":0.81},{"day":135.98,"v":0.88},{"day":136.19,"v":0.91},{"day":136.39,"v":0.91},{"day":136.60,"v":0.94},{"day":136.81,"v":0.91},{"day":137.02,"v":0.95},{"day":137.23,"v":0.96},{"day":137.43,"v":0.94},{"day":137.64,"v":0.91},{"day":137.85,"v":0.88},{"day":138.06,"v":0.94},{"day":138.26,"v":0.91},{"day":138.47,"v":0.95},{"day":138.68,"v":0.81},{"day":138.89,"v":0.79},{"day":139.10,"v":0.91},{"day":139.30,"v":0.96},{"day":139.51,"v":0.91},{"day":139.72,"v":0.76},{"day":139.93,"v":0.74},{"day":140.14,"v":0.73},{"day":140.34,"v":0.71},{"day":140.55,"v":0.68},{"day":140.76,"v":0.69},{"day":140.97,"v":0.73},{"day":141.17,"v":0.83},{"day":141.38,"v":0.86},{"day":141.59,"v":0.79},{"day":141.80,"v":0.76},{"day":142.01,"v":0.88},{"day":142.21,"v":0.96},{"day":142.42,"v":1.03},{"day":142.63,"v":0.98},{"day":142.84,"v":0.99},{"day":143.05,"v":1.01},{"day":143.25,"v":0.99},{"day":143.46,"v":0.98},{"day":143.67,"v":0.94},{"day":143.88,"v":0.91},{"day":144.08,"v":0.93},{"day":144.29,"v":0.83},{"day":144.50,"v":0.81},{"day":144.71,"v":0.83},{"day":144.92,"v":0.89},{"day":145.12,"v":0.96},{"day":145.33,"v":0.98},{"day":145.54,"v":0.91},{"day":145.75,"v":0.76},{"day":145.95,"v":0.84},{"day":146.16,"v":0.88},{"day":146.37,"v":0.94},{"day":146.58,"v":0.89},{"day":146.79,"v":0.69},{"day":146.99,"v":0.79},{"day":147.20,"v":0.84},{"day":147.41,"v":0.89},{"day":147.62,"v":0.88},{"day":147.83,"v":0.81},{"day":148.03,"v":0.89},{"day":148.24,"v":0.94},{"day":148.45,"v":0.96},{"day":148.66,"v":0.86},{"day":148.86,"v":0.91},{"day":149.07,"v":0.94},{"day":149.28,"v":0.96},{"day":149.49,"v":0.96},{"day":149.70,"v":0.98},{"day":149.90,"v":0.94},{"day":150.11,"v":0.98},{"day":150.32,"v":0.99},{"day":150.53,"v":1.01},{"day":150.73,"v":0.99},{"day":150.94,"v":0.93},{"day":151.15,"v":1.00},{"day":151.36,"v":1.01},{"day":151.57,"v":0.94},{"day":151.77,"v":0.88},{"day":151.98,"v":0.86},{"day":152.19,"v":0.89},{"day":152.40,"v":0.91},{"day":152.61,"v":0.91},{"day":152.81,"v":0.94},{"day":153.02,"v":1.01},{"day":153.23,"v":1.06},{"day":153.44,"v":1.09},{"day":153.64,"v":1.08},{"day":153.85,"v":1.09},{"day":154.06,"v":1.08},{"day":154.27,"v":1.09},{"day":154.48,"v":1.08},{"day":154.68,"v":1.03},{"day":154.89,"v":0.99},{"day":155.10,"v":1.08},{"day":155.31,"v":1.03},{"day":155.51,"v":0.98},{"day":155.72,"v":0.94},{"day":155.93,"v":0.98},{"day":156.14,"v":1.01},{"day":156.35,"v":1.03},{"day":156.55,"v":1.01},{"day":156.76,"v":1.03},{"day":156.97,"v":1.04},{"day":157.18,"v":1.13},{"day":157.38,"v":1.20},{"day":157.52,"v":1.18},{"day":157.66,"v":1.09},{"day":157.80,"v":0.98},{"day":158.01,"v":0.91},{"day":158.22,"v":0.86},{"day":158.42,"v":0.94},{"day":158.63,"v":0.88},{"day":158.84,"v":0.99},{"day":159.05,"v":0.94},{"day":159.26,"v":1.01},{"day":159.46,"v":0.94},{"day":159.60,"v":1.13},{"day":159.74,"v":1.46},{"day":159.88,"v":1.51},{"day":160.05,"v":1.50}
]
},
"vconcat": [
  {"width": 2178, "height": 10, "data": {"values": []}, "mark": "point", "view": {"fill": "#B9CDE5", "stroke": null}},
  {"hconcat": [
    {"width": 28, "height": 1662, "data": {"values": []}, "mark": "point", "view": {"fill": "#B9CDE5", "stroke": null}},
    {"vconcat": [
      {"width": 2150, "height": 3, "data": {"values": []}, "mark": "point", "view": {"fill": "#A3A3A3", "stroke": null}},
      {"hconcat": [
        {"width": 4, "height": 1659, "data": {"values": []}, "mark": "point", "view": {"fill": "#A3A3A3", "stroke": null}},
        {"vconcat": [
          {"width": 1, "height": 1, "data": {"values": []}, "mark": "point"},
          {
            "width": 1767, "height": 999,
            "title": {"text": ["Figure 3. Mad River and Dowsville Brook Stage", "Elevation Over Time"], "font": "Lato", "fontSize": 73.6, "fontWeight": "bold", "color": "black", "anchor": "middle", "frame": "group", "dx": -114, "lineHeight": 93, "offset": 44},
            "encoding": {
              "x": {"field": "day", "type": "quantitative",
                "scale": {"domain": [0.125, 160.05], "nice": false, "zero": false},
                "axis": {"title": null, "grid": false, "ticks": false, "tickSize": 0,
                  "values": [0.125, 9, 18, 27, 36, 44, 53, 62, 71, 80, 89, 98, 106, 115, 124, 133, 142, 151],
                  "labelExpr": "datum.value < 1 ? 'date' : timeFormat(datetime(2014, 5, 18 + datum.value), '%-m/%-d/%y')",
                  "domainColor": "#969696", "domainWidth": 25, "offset": 12.5,
                  "labelAngle": 270, "labelAlign": "right", "labelBaseline": "middle", "labelPadding": 43,
                  "labelFont": "Lato", "labelFontSize": 70, "labelColor": "black", "labelOffset": 10, "labelLimit": 0,
                  "labelOverlap": false, "labelFlush": false, "labelBound": false}},
              "y": {"field": "v", "type": "quantitative",
                "scale": {"domain": [0, 5], "nice": false},
                "axis": {"title": "Stage Elevation in Feet", "values": [0, 0.5, 1, 1.5, 2, 2.5, 3, 3.5, 4, 4.5, 5], "format": "~g",
                  "grid": true, "gridColor": "#a0a0a0", "gridWidth": 2.5,
                  "domainColor": "#a0a0a0", "domainWidth": 2.5,
                  "ticks": true, "tickSize": 26, "tickColor": "#a0a0a0", "tickWidth": 2.5,
                  "labelFont": "Lato", "labelFontSize": 68, "labelColor": "black", "labelPadding": 51, "labelOffset": 8,
                  "labelOverlap": false, "labelFlush": false, "labelBound": false,
                  "titleFont": "Lato", "titleFontSize": 74, "titleFontWeight": "bold", "titleColor": "black",
                  "titleX": -226, "titleY": 499.5, "titleAngle": 270, "titleAlign": "center", "titleBaseline": "middle"}},
              "color": {"datum": "Mad River Stage - feet", "type": "nominal",
                "scale": {"domain": ["Mad River Stage - feet", "Dowsville Stage - feet"], "range": ["#4E8DC8", "#CB5B52"]},
                "legend": {"orient": "none", "legendX": 1496, "legendY": 108, "title": null, "padding": 0,
                  "symbolType": "M-1,0.79L1,0.79", "symbolSize": 4489, "symbolStrokeWidth": 3,
                  "labelFont": "Lato", "labelFontSize": 74, "labelColor": "black", "labelOffset": 2, "labelBaseline": "top", "labelLimit": 0,
                  "labelExpr": "datum.label == 'Mad River Stage - feet' ? ['Mad River Stage -', 'feet'] : ['Dowsville Stage -', 'feet']",
                  "rowPadding": 12}}
            },
            "layer": [
              {"data": {"name": "mad"}, "mark": {"type": "line", "strokeWidth": 3.5, "strokeJoin": "round"},
               "encoding": {"color": {"datum": "Mad River Stage - feet", "type": "nominal"}}},
              {"data": {"name": "dow"}, "mark": {"type": "line", "strokeWidth": 3.5, "strokeJoin": "round"},
               "encoding": {"color": {"datum": "Dowsville Stage - feet", "type": "nominal"}}}
            ]
          }
        ], "spacing": 288, "bounds": "flush"}
      ], "spacing": 326, "bounds": "flush"}
    ], "spacing": 0, "bounds": "flush"}
  ], "spacing": 0, "bounds": "flush"}
],
"spacing": 0, "bounds": "flush"
}
